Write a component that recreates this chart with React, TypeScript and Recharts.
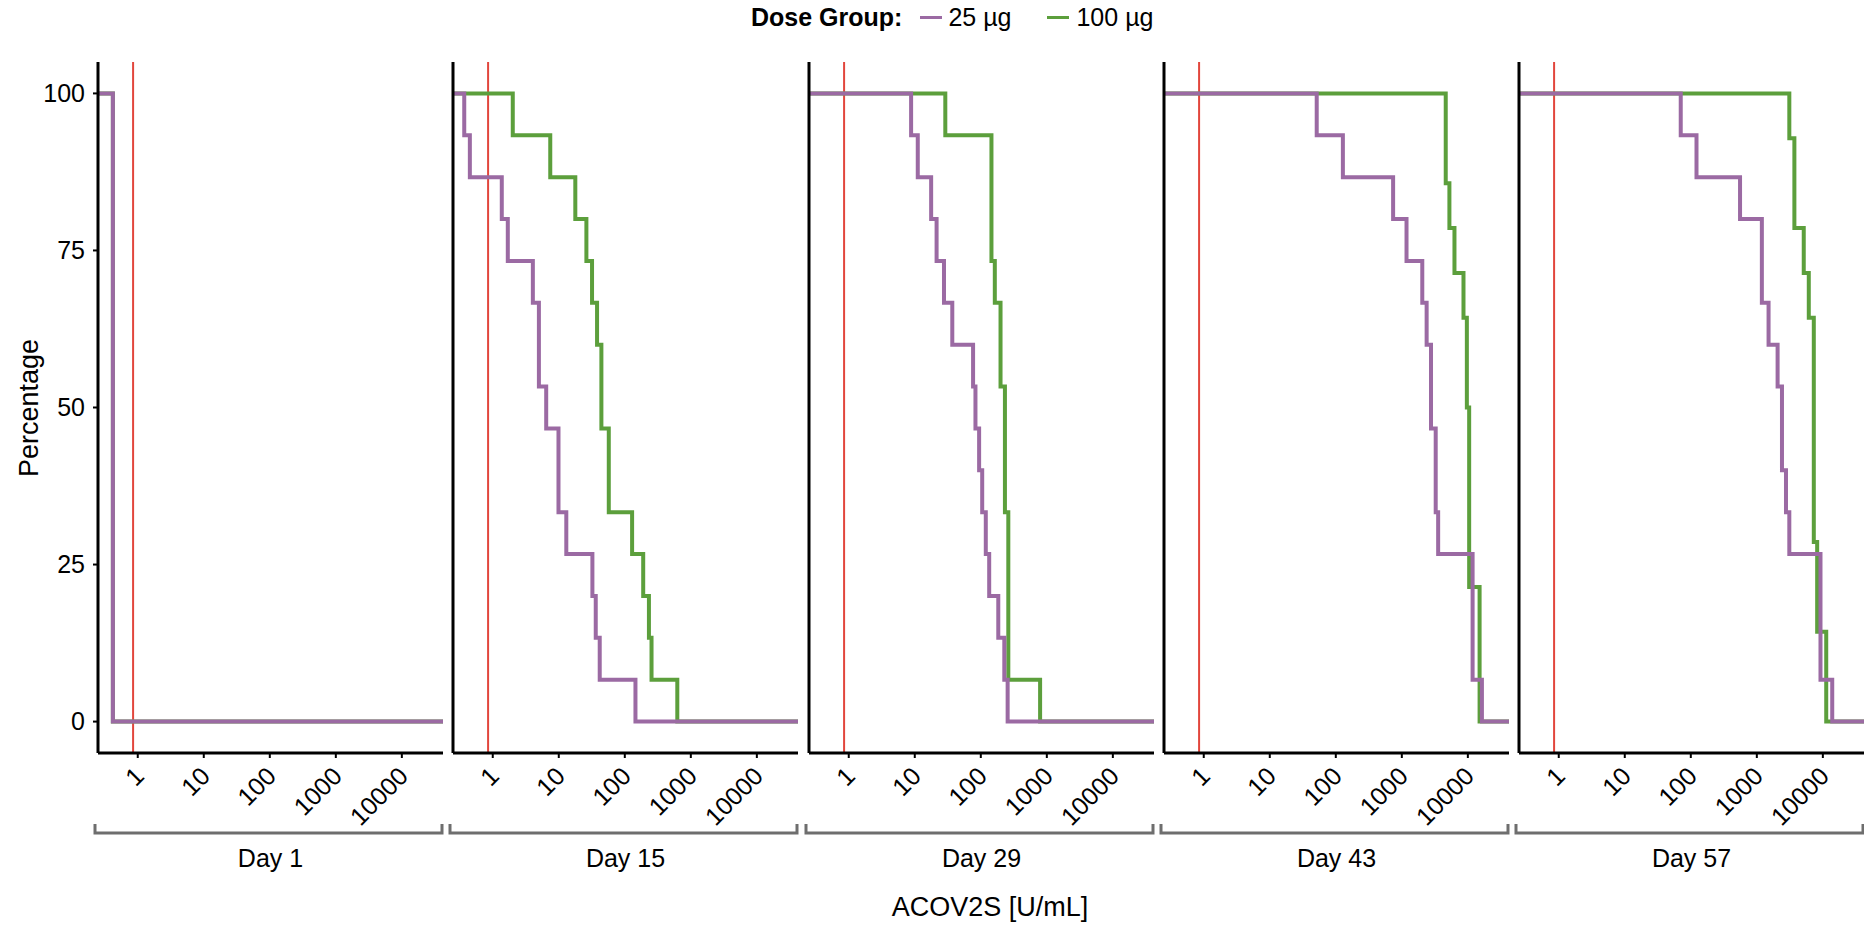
import React from 'react';
import { LineChart, Line, XAxis, YAxis, ReferenceLine } from 'recharts';

// ACOV2S titres per subject
const days = ['Day 1', 'Day 15', 'Day 29', 'Day 43', 'Day 57'];

const day1Low = [0.42, 0.42, 0.42, 0.42, 0.42, 0.42, 0.42, 0.42, 0.42, 0.42, 0.42, 0.42, 0.42, 0.42, 0.42];
const day1High = [0.42, 0.42, 0.42, 0.42, 0.42, 0.42, 0.42, 0.42, 0.42, 0.42, 0.42, 0.42, 0.42, 0.42, 0.42];

const day15Low = [0.37, 0.45, 1.37, 1.69, 4.05, 5.0, 5.0, 6.45, 9.9, 9.9, 13, 32.3, 36.3, 41.7, 145];
const day15High = [2.01, 7.43, 17.8, 26.2, 31.9, 38, 44.2, 44.2, 57.2, 57.2, 129, 190, 232, 254, 624];

const day29Low = [8.8, 11.1, 17.7, 21.4, 27.7, 37, 76.4, 83, 94.3, 105, 119, 134, 184, 227, 255];
const day29High = [29, 145, 145, 145, 163, 199, 199, 232, 232, 232, 261, 261, 261, 261, 791];

const day43Low = [51.4, 128, 738, 1178, 2041, 2376, 2767, 2767, 3259, 3259, 3550, 11800, 11800, 11800, 16330];
const day43High = [4624, 4624, 5256, 6270, 8590, 9660, 9660, 10470, 10470, 10470, 10470, 15060, 15060, 15060];

const day57Low = [70.4, 122, 557, 1192, 1192, 1506, 2064, 2404, 2404, 2765, 3105, 9210, 9210, 9210, 13870];
const day57High = [3106, 3705, 3705, 5136, 6124, 7293, 7293, 7293, 7293, 7293, 8202, 8202, 11250, 11250];

const lowByDay = [day1Low, day15Low, day29Low, day43Low, day57Low];
const highByDay = [day1High, day15High, day29High, day43High, day57High];

const xTicks = [1, 10, 100, 1000, 10000];
const yTicks = [0, 25, 50, 75, 100];
const LLOQ = 0.85;
const XMIN = 0.25;
const XMAX = 42000;

const PURPLE = '#9b6aa3';
const GREEN = '#5c9f3c';
const RED = '#e2463c';
const FONT = '"Liberation Sans", Arial, Helvetica, sans-serif';

const PANEL_LEFTS = [98, 453, 809, 1164, 1519];
const PANEL_W = 345;

// reverse cumulative: % of subjects with titre above x
function toSteps(values: number[]) {
  const sorted = [...values].sort((a, b) => a - b);
  const n = sorted.length;
  const pts = [{ x: XMIN, y: 100 }];
  const uniq = Array.from(new Set(sorted));
  uniq.forEach(v => {
    const below = sorted.filter(s => s <= v).length;
    pts.push({ x: v, y: (100 * (n - below)) / n });
  });
  pts.push({ x: XMAX, y: 0 });
  return pts;
}

const RotTick = (props: any) => {
  const { x, y, payload } = props;
  const ax = x - 5;
  const ay = y + 5;
  return (
    <text
      x={ax}
      y={ay}
      dy="0.72em"
      textAnchor="end"
      fontSize={25}
      fill="#000"
      transform={`rotate(-45 ${ax} ${ay})`}
    >
      {payload.value}
    </text>
  );
};

const Bracket = (props: any) => {
  const { viewBox, day } = props;
  if (!viewBox) return null;
  const { x, y, width } = viewBox;
  const ly = y + 80;
  return (
    <g>
      <path
        d={`M${x - 3},${ly - 9} L${x - 3},${ly} L${x + width - 1},${ly} L${x + width - 1},${ly - 9}`}
        fill="none"
        stroke="#6e6e6e"
        strokeWidth={3}
      />
      <text x={x + width / 2} y={y + 114} textAnchor="middle" fontSize={25} fill="#000">
        {day}
      </text>
    </g>
  );
};

const YTitle = () => (
  <text x={38} y={408} transform="rotate(-90 38 408)" textAnchor="middle" fontSize={27} fill="#000">
    Percentage
  </text>
);

function Panel({ index }: { index: number }) {
  const first = index === 0;
  const width = first ? PANEL_LEFTS[0] + PANEL_W + 6 : PANEL_W + 12;
  const left = first ? 0 : PANEL_LEFTS[index] - 6;
  const low = toSteps(lowByDay[index]);
  const high = toSteps(highByDay[index]);
  return (
    <div style={{ position: 'absolute', left, top: 0 }}>
      <LineChart
        width={width}
        height={928}
        margin={{ top: 62, right: 6, bottom: 0, left: first ? 0 : 5 }}
      >
        <XAxis
          type="number"
          dataKey="x"
          scale="log"
          domain={[XMIN, XMAX]}
          ticks={xTicks}
          interval={0}
          allowDataOverflow
          height={175}
          axisLine={{ stroke: '#000', strokeWidth: 3 }}
          tickLine={{ stroke: '#000', strokeWidth: 2 }}
          tickSize={5}
          tick={<RotTick />}
          label={<Bracket day={days[index]} />}
        />
        <YAxis
          type="number"
          domain={[-5, 105]}
          ticks={yTicks}
          width={first ? PANEL_LEFTS[0] : 1}
          axisLine={{ stroke: '#000', strokeWidth: 3 }}
          tickLine={first ? { stroke: '#000', strokeWidth: 2 } : false}
          tickSize={5}
          tickMargin={8}
          tick={first ? { fill: '#000', fontSize: 25 } : false}
          label={first ? <YTitle /> : undefined}
        />
        <ReferenceLine x={LLOQ} stroke={RED} strokeWidth={2} />
        <Line
          data={high}
          dataKey="y"
          type="stepAfter"
          stroke={GREEN}
          strokeWidth={4}
          dot={false}
          activeDot={false}
          isAnimationActive={false}
        />
        <Line
          data={low}
          dataKey="y"
          type="stepAfter"
          stroke={PURPLE}
          strokeWidth={4}
          dot={false}
          activeDot={false}
          isAnimationActive={false}
        />
      </LineChart>
    </div>
  );
}

export default function App() {
  return (
    <div
      style={{
        position: 'absolute',
        left: 0,
        top: 0,
        width: 1864,
        height: 928,
        overflow: 'hidden',
        background: '#fff',
        fontFamily: FONT,
      }}
    >
      <div
        style={{
          position: 'absolute',
          left: 751,
          top: 0,
          height: 34,
          display: 'flex',
          alignItems: 'center',
          fontSize: 25,
          color: '#000',
          whiteSpace: 'nowrap',
        }}
      >
        <span style={{ fontWeight: 'bold' }}>Dose Group:</span>
        <span style={{ width: 22, height: 3, background: PURPLE, marginLeft: 18, marginRight: 6 }} />
        <span>25 µg</span>
        <span style={{ width: 22, height: 3, background: GREEN, marginLeft: 36, marginRight: 7 }} />
        <span>100 µg</span>
      </div>
      {days.map((d, i) => (
        <Panel key={d} index={i} />
      ))}
      <div
        style={{
          position: 'absolute',
          left: 990,
          top: 907,
          transform: 'translate(-50%, -50%)',
          fontSize: 27,
          color: '#000',
          whiteSpace: 'nowrap',
        }}
      >
        ACOV2S [U/mL]
      </div>
    </div>
  );
}
